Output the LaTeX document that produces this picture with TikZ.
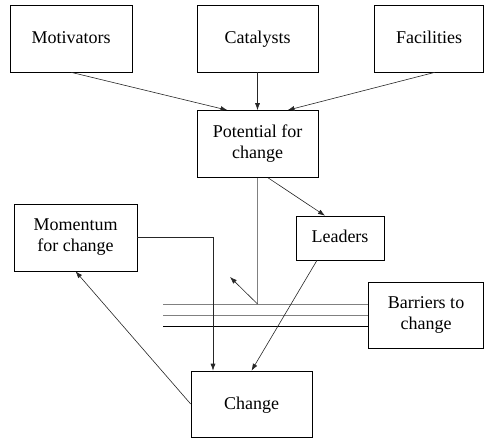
\documentclass[tikz,border=0pt]{standalone}
\usepackage{fontspec}
\setmainfont{Liberation Serif}
\usetikzlibrary{arrows.meta}
\begin{document}
\begin{tikzpicture}[ x=1pt, y=-1pt, >={Latex[length=7pt,width=5pt]}, line width=0.6pt,
    box/.style={ draw, align=center, font=\fontsize{18}{21}\selectfont,
    inner sep=2pt }, one/.style={ box, text height=13pt, text depth=3pt },
    link/.style={ ->, black!85 }, bar/.style={ gray } ]
  \useasboundingbox (0,0) rectangle (484,438);
  \foreach \x/\w/\n/\t in {71/122/mot/Motivators,257.5/121/cat/Catalysts,429/109/fac/Facilities}
  \node[one,minimum width=\w pt,minimum height=67pt] (\n) at (\x,38.5) {\t};
  \node[box,minimum width=121pt,minimum height=67pt] (pot) at (257.5,144) {Potential for\\change};
  \node[box,minimum width=123pt,minimum height=67pt] (mom) at (75.5,237.5) {Momentum\\for change};
  \node[one,minimum width=88pt,minimum height=44pt] (lead) at (340,238) {Leaders};
  \node[box,minimum width=115pt,minimum height=66pt] (barr) at (426,315) {Barriers to\\change};
  \node[one,minimum width=121pt,minimum height=66pt] (chg) at (251.5,404) {Change};

  % barriers
  \foreach \y/\c [count=\i] in {304/gray,315/gray,326/black}
  { \coordinate (b\i) at (163,\y);
    \draw[\c] (b\i) -- (b\i -| barr.west); }
  \coordinate (push) at (230,277);

  \draw[link] (mot.south) -- ([xshift=-30pt]pot.north);
  \draw[link] (cat) -- (pot);
  \draw[link] ([xshift=6pt]fac.south) -- ([xshift=30pt]pot.north);
  \draw[link] ([xshift=10.5pt]pot.south) -- ([xshift=-15pt]lead.north);
  \draw[bar] (pot.south) -- (pot.south |- b1);
  \draw[link] (pot.south |- b1) -- (push);
  \draw[link] (mom.east) -| ([xshift=-38.5pt]chg.north);
  \draw[link] ([xshift=-23pt]lead.south) -- (chg.north);
  \draw[link] (chg.west) -- (mom.south);
\end{tikzpicture}
\end{document}
